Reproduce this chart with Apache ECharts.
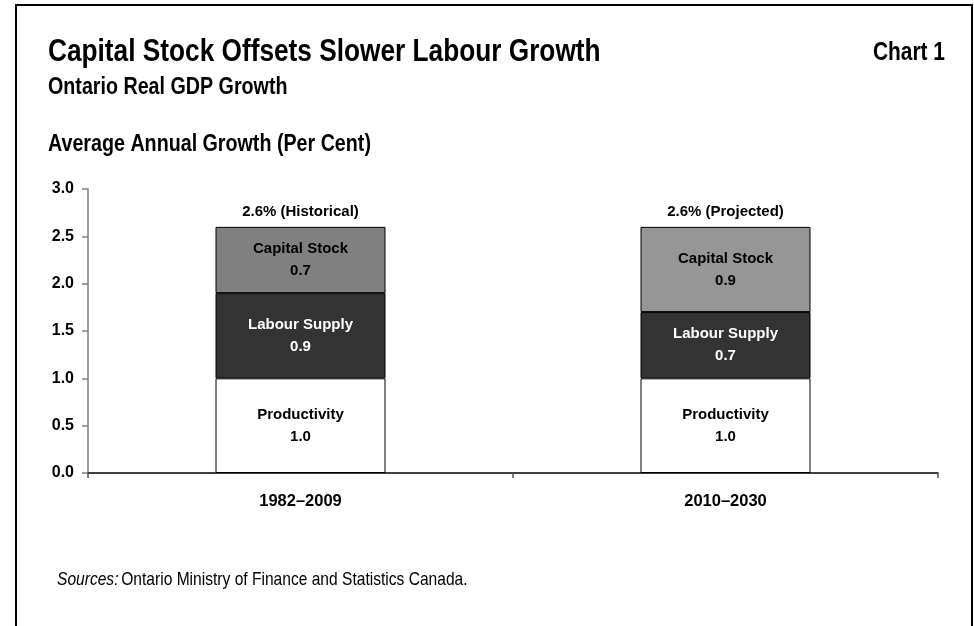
<!DOCTYPE html>
<html>
<head>
<meta charset="utf-8">
<style>
  html, body { margin: 0; padding: 0; background: #ffffff; }
  #chart { width: 974px; height: 626px; }
</style>
<script src="https://cdn.jsdelivr.net/npm/echarts@6/dist/echarts.min.js"></script>
</head>
<body>
<div id="chart"></div>
<script>
// Periods on the x axis
const periods = ['1982–2009', '2010–2030'];
// Contribution of each source to average annual real GDP growth (per cent)
const productivity = [1.0, 1.0];
const labourSupply = [0.9, 0.7];
const capitalStock = [0.7, 0.9];
// Total growth and its description above each bar
const totals = [2.6, 2.6];
const totalNotes = ['Historical', 'Projected'];
// Y axis ticks
const yTicks = [0.0, 0.5, 1.0, 1.5, 2.0, 2.5, 3.0];

const FONT = '"Liberation Sans", Arial, Helvetica, sans-serif';
// horizontal squeeze that gives the headings a condensed look
const NARROW = 0.82;
const capitalColours = ['#808080', '#969696'];

const chart = echarts.init(document.getElementById('chart'), null, { renderer: 'canvas' });

function segLabel(name, colour) {
  return {
    show: true,
    position: 'inside',
    color: colour,
    fontFamily: FONT,
    fontWeight: 'bold',
    fontSize: 15,
    lineHeight: 22,
    formatter: p => name + '\n' + p.value.toFixed(1)
  };
}

const barCommon = {
  type: 'bar',
  stack: 'growth',
  barWidth: '40%',
  emphasis: { disabled: true },
  silent: true
};

function heading(text, x, y, size, align, weight, style) {
  return {
    type: 'text', x: x, y: y, scaleX: NARROW, silent: true,
    style: {
      text: text, fill: '#000000',
      font: (style || 'normal') + ' ' + (weight || 'bold') + ' ' + size + 'px ' + FONT,
      textAlign: align || 'left', textVerticalAlign: 'middle'
    }
  };
}

chart.setOption({
  animation: false,
  backgroundColor: '#ffffff',
  grid: { left: 88, right: 36, top: 189, bottom: 153, containLabel: false },
  xAxis: {
    type: 'category',
    data: periods,
    axisLine: { lineStyle: { color: '#000000', width: 1.5 } },
    axisTick: { show: true, alignWithLabel: false, length: 5, lineStyle: { color: '#555555', width: 1.5 } },
    axisLabel: { color: '#000000', fontFamily: FONT, fontWeight: 'bold', fontSize: 16.5, margin: 20 }
  },
  yAxis: {
    type: 'value',
    min: yTicks[0],
    max: yTicks[yTicks.length - 1],
    interval: 0.5,
    splitLine: { show: false },
    axisLine: { show: true, lineStyle: { color: '#808080', width: 1.5 } },
    axisTick: { show: true, length: 6, inside: false, lineStyle: { color: '#808080', width: 1.5 } },
    axisLabel: { color: '#000000', fontFamily: FONT, fontWeight: 'bold', fontSize: 16, margin: 14,
                 formatter: v => v.toFixed(1) }
  },
  series: [
    Object.assign({}, barCommon, {
      name: 'Productivity',
      data: productivity,
      itemStyle: { color: '#ffffff', borderColor: '#000000', borderWidth: 1 },
      label: segLabel('Productivity', '#000000')
    }),
    Object.assign({}, barCommon, {
      name: 'Labour Supply',
      data: labourSupply,
      itemStyle: { color: '#333333', borderColor: '#000000', borderWidth: 1 },
      label: segLabel('Labour Supply', '#ffffff')
    }),
    Object.assign({}, barCommon, {
      name: 'Capital Stock',
      data: capitalStock.map((v, i) => ({ value: v, itemStyle: { color: capitalColours[i] } })),
      itemStyle: { borderColor: '#000000', borderWidth: 1 },
      label: segLabel('Capital Stock', '#000000')
    }),
    {
      name: 'Total',
      type: 'scatter',
      symbolSize: 0,
      silent: true,
      itemStyle: { opacity: 1, color: '#000000' },
      data: totals.map((t, i) => [periods[i], t]),
      label: {
        show: true,
        position: 'top',
        distance: 8,
        color: '#000000',
        opacity: 1,
        fontFamily: FONT,
        fontWeight: 'bold',
        fontSize: 15,
        formatter: p => p.value[1].toFixed(1) + '% (' + totalNotes[p.dataIndex] + ')'
      }
    }
  ],
  graphic: [
    // frame, open at the bottom
    { type: 'polyline', shape: { points: [[16, 626], [16, 5], [972, 5], [972, 626]] },
      style: { stroke: '#000000', lineWidth: 2, fill: null }, silent: true },
    heading('Capital Stock Offsets Slower Labour Growth', 48, 52, 32),
    heading('Chart 1', 945, 53, 25.5, 'right'),
    heading('Ontario Real GDP Growth', 48, 87, 24),
    heading('Average Annual Growth (Per Cent)', 48, 144, 24),
    {
      type: 'text', x: 57, y: 580, scaleX: NARROW, silent: true,
      style: {
        text: '{i|Sources:} {n|Ontario Ministry of Finance and Statistics Canada.}',
        textVerticalAlign: 'middle',
        rich: {
          i: { fontFamily: FONT, fontStyle: 'italic', fontSize: 19, fill: '#000000' },
          n: { fontFamily: FONT, fontSize: 19, fill: '#000000' }
        }
      }
    }
  ]
});
</script>
</body>
</html>
